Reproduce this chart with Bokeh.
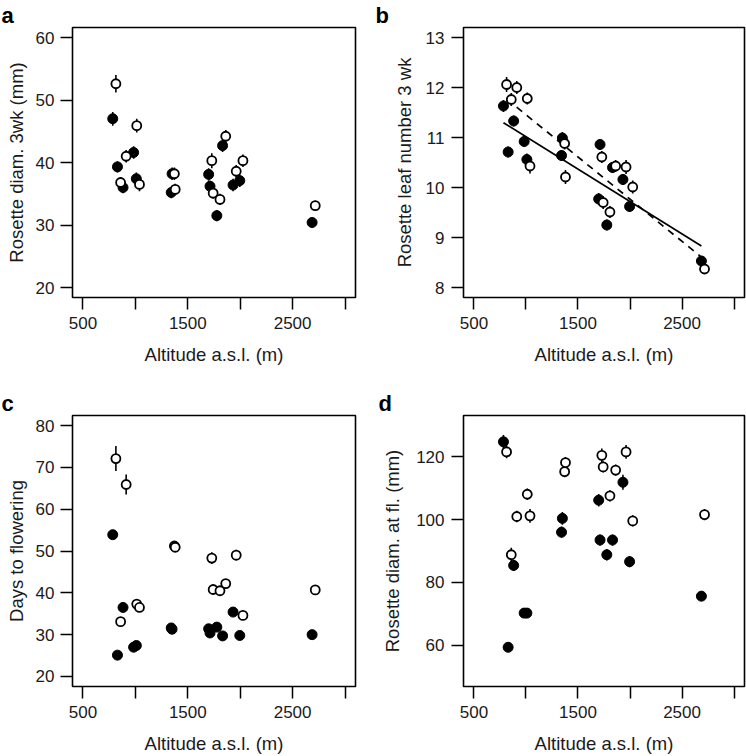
import numpy as np
from bokeh.plotting import figure
from bokeh.models import ColumnDataSource, FixedTicker, Range1d, Title
from bokeh.layouts import column, row
from bokeh.transform import dodge
from bokeh.embed import file_html
from bokeh.resources import INLINE

# ---------------- data ----------------
altitude = [784, 829, 882, 983, 1009, 1342, 1350, 1699, 1712, 1777, 1832, 1932, 1996, 2686]
x_limits = [500, 3000]
x_major_ticks = [500, 1500, 2500]
x_minor_ticks = [1000, 2000, 3000]

# a: Rosette diameter 3 wk (mm)
diam3_filled = [47.0, 39.3, 36.0, 41.6, 37.4, 35.2, 38.2, 38.1, 36.2, 31.5, 42.7, 36.4, 37.1, 30.4]
diam3_open = [52.6, 36.8, 41.0, 45.9, 36.5, 38.2, 35.7, 40.3, 35.1, 34.1, 44.2, 38.6, 40.3, 33.1]
diam3_se_filled = [1.1, 0.9, 0.9, 1.0, 1.0, 0.9, 1.0, 1.0, 0.9, 0.9, 1.0, 1.0, 1.0, 0.8]
diam3_se_open = [1.4, 0.9, 1.0, 1.1, 1.1, 1.0, 0.9, 1.2, 0.9, 0.9, 1.0, 1.0, 1.0, 0.8]
diam3_ticks = [20, 30, 40, 50, 60]
diam3_limits = [20, 60]

# b: Rosette leaf number 3 wk
leaves_filled = [11.63, 10.71, 11.33, 10.92, 10.56, 10.64, 10.99, 9.77, 10.86, 9.25, 10.40, 10.16, 9.62, 8.53]
leaves_open = [12.06, 11.76, 12.00, 11.78, 10.43, 10.88, 10.21, 10.61, 9.70, 9.51, 10.43, 10.41, 10.01, 8.37]
leaves_se_filled = [0.12, 0.11, 0.11, 0.11, 0.12, 0.11, 0.12, 0.12, 0.11, 0.11, 0.11, 0.11, 0.11, 0.10]
leaves_se_open = [0.15, 0.13, 0.13, 0.12, 0.15, 0.12, 0.14, 0.12, 0.13, 0.12, 0.12, 0.14, 0.13, 0.10]
leaves_ticks = [8, 9, 10, 11, 12, 13]
leaves_limits = [8, 13]

# c: Days to flowering
days_filled = [53.9, 25.1, 36.5, 27.0, 27.4, 31.6, 31.3, 31.4, 30.4, 31.8, 29.7, 35.4, 29.8, 30.0]
days_open = [72.1, 33.1, 65.9, 37.3, 36.5, 51.2, 50.9, 48.3, 40.8, 40.5, 42.2, 49.0, 34.6, 40.7]
days_se_filled = [1.0, 0.8, 1.0, 0.8, 0.8, 0.8, 0.8, 0.8, 0.8, 0.8, 0.8, 0.9, 0.8, 0.8]
days_se_open = [3.0, 1.0, 2.4, 1.0, 1.0, 1.0, 1.0, 1.4, 1.0, 1.0, 1.0, 1.3, 1.0, 1.0]
days_ticks = [20, 30, 40, 50, 60, 70, 80]
days_limits = [20, 80]

# d: Rosette diameter at flowering (mm)
diamfl_filled = [124.8, 59.3, 85.4, 70.2, 70.2, 96.0, 100.4, 106.2, 93.5, 88.8, 93.5, 111.9, 86.6, 75.6]
diamfl_open = [121.6, 88.8, 101.0, 108.1, 101.2, 115.3, 118.2, 120.5, 116.8, 107.6, 115.8, 121.6, 99.6, 101.6]
diamfl_se_filled = [2.2, 1.5, 1.8, 1.5, 1.5, 1.8, 2.0, 2.0, 1.8, 1.8, 1.8, 2.4, 1.8, 1.5]
diamfl_se_open = [2.0, 2.2, 1.8, 1.8, 2.2, 1.8, 1.8, 2.2, 1.8, 1.8, 1.8, 2.2, 1.8, 1.8]
diamfl_ticks = [60, 80, 100, 120]
diamfl_limits = [50, 130]

# ---------------- styling ----------------
FONT = "Liberation Sans"
TICK_FS = "17px"
TITLE_FS = "18.5px"
TEXT_COLOR = "#1a1a1a"
OPEN_OFFSET = 30  # horizontal dodge of open symbols (m)
W, H = 373, 378


def expand(lim):
    pad = 0.04 * (lim[1] - lim[0])
    return lim[0] - pad, lim[1] + pad


def make_panel(letter, ylabel, yf, yo, sef, seo, ylim, yticks, borders, letter_dx,
               ytick_standoff, ylab_standoff, fit=False):
    L, R, T, B = borders
    x0, x1 = expand(x_limits)
    y0, y1 = expand(ylim)
    p = figure(width=W, height=H, x_range=Range1d(x0, x1), y_range=Range1d(y0, y1),
               output_backend="svg", toolbar_location=None,
               min_border_left=L, min_border_right=R, min_border_top=T, min_border_bottom=B)
    p.grid.visible = False
    p.outline_line_color = "black"
    p.outline_line_width = 1.6
    p.background_fill_color = "white"
    p.border_fill_color = "white"

    # panel letter as a left-aligned title
    p.add_layout(Title(text=letter, align="left", offset=letter_dx, standoff=0,
                       text_font=FONT, text_font_size="22px", text_font_style="bold",
                       text_color="black"), "above")

    # axes
    p.xaxis.ticker = FixedTicker(ticks=x_major_ticks, minor_ticks=x_minor_ticks)
    p.yaxis.ticker = FixedTicker(ticks=yticks, minor_ticks=[])
    for ax in (p.xaxis[0], p.yaxis[0]):
        ax.axis_line_color = None
        ax.major_tick_out = 12
        ax.major_tick_in = 0
        ax.minor_tick_out = 12
        ax.minor_tick_in = 0
        ax.major_tick_line_width = 1.5
        ax.minor_tick_line_width = 1.5
        ax.major_tick_line_color = "black"
        ax.minor_tick_line_color = "black"
        ax.major_label_text_font = FONT
        ax.major_label_text_font_size = TICK_FS
        ax.major_label_text_color = TEXT_COLOR
        ax.axis_label_text_font = FONT
        ax.axis_label_text_font_size = TITLE_FS
        ax.axis_label_text_font_style = "normal"
        ax.axis_label_text_color = TEXT_COLOR
    p.xaxis.axis_label = "Altitude a.s.l. (m)"
    p.xaxis.major_label_standoff = 7
    p.xaxis.axis_label_standoff = 12
    p.yaxis.axis_label = ylabel
    p.yaxis.major_label_standoff = ytick_standoff
    p.yaxis.axis_label_standoff = ylab_standoff
    p.yaxis.major_label_orientation = "horizontal"

    src = ColumnDataSource(dict(
        alt=altitude, yf=yf, yo=yo,
        f_lo=[v - s for v, s in zip(yf, sef)], f_hi=[v + s for v, s in zip(yf, sef)],
        o_lo=[v - s for v, s in zip(yo, seo)], o_hi=[v + s for v, s in zip(yo, seo)],
    ))
    xo = dodge("alt", OPEN_OFFSET, range=p.x_range)

    if fit:
        xa = np.array(altitude, dtype=float)
        xb = xa + OPEN_OFFSET
        cf = np.polyfit(xa, np.array(yf), 1)
        co = np.polyfit(xb, np.array(yo), 1)
        xs_f = [xa.min(), xa.max()]
        xs_o = [xb.min(), xb.max()]
        p.line(xs_f, np.polyval(cf, xs_f), line_color="black", line_width=1.7)
        p.line(xs_o, np.polyval(co, xs_o), line_color="black", line_width=1.7, line_dash="7 6")

    p.segment(x0="alt", y0="f_lo", x1="alt", y1="f_hi", source=src, line_color="black", line_width=1.6)
    p.segment(x0=xo, y0="o_lo", x1=xo, y1="o_hi", source=src, line_color="black", line_width=1.6)
    p.scatter(x="alt", y="yf", source=src, size=10, fill_color="black", line_color="black", line_width=1)
    p.scatter(x=xo, y="yo", source=src, size=9, fill_color="white", line_color="black", line_width=1.8)
    return p


pa = make_panel("a", "Rosette diam. 3wk (mm)", diam3_filled, diam3_open, diam3_se_filled, diam3_se_open,
                diam3_limits, diam3_ticks, (72, 18, 24, 81), -71, 6, 6)
pb = make_panel("b", "Rosette leaf number 3 wk", leaves_filled, leaves_open, leaves_se_filled, leaves_se_open,
                leaves_limits, leaves_ticks, (90, 2, 25, 81), -88, 7, 8, fit=True)
pc = make_panel("c", "Days to flowering", days_filled, days_open, days_se_filled, days_se_open,
                days_limits, days_ticks, (72, 18, 36, 70), -71, 6, 6)
pd = make_panel("d", "Rosette diam. at fl. (mm)", diamfl_filled, diamfl_open, diamfl_se_filled, diamfl_se_open,
                diamfl_limits, diamfl_ticks, (90, 2, 37, 69), -85, 7, 10)

layout = column(row(pa, pb), row(pc, pd))
open("out.html", "w").write(file_html(layout, INLINE))
